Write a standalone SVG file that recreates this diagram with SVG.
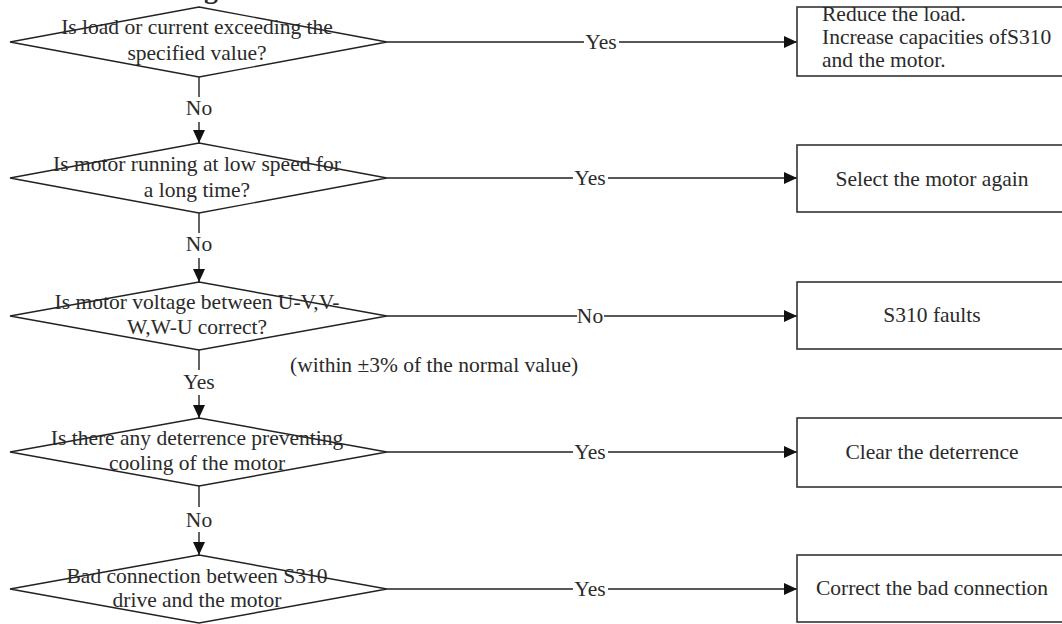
<svg xmlns="http://www.w3.org/2000/svg" width="1062" height="624" viewBox="0 0 1062 624">
<style>
text{font-family:"Liberation Serif","Times New Roman",serif;font-size:21.5px;fill:#2a2a2a}
.c{text-anchor:middle}
.d{fill:#fff;stroke:#222;stroke-width:1.4}
.b{fill:#fff;stroke:#333;stroke-width:1.6}
.ln{fill:none;stroke:#222;stroke-width:1.4}
</style>
<defs>
<marker id="ah" markerUnits="userSpaceOnUse" markerWidth="14" markerHeight="12" refX="13" refY="6" orient="auto">
<path d="M0,0 L13,6 L0,12 z" fill="#111"/>
</marker>
</defs>
<rect width="1062" height="624" fill="#fff"/>
<text x="204" y="-2" style="font-weight:bold;font-size:28px">g</text>
<g id="connectors">
<path class="ln" d="M199 77 V97 M199 122 V143" marker-end="url(#ah)"/>
<text class="c" x="199" y="115">No</text>
<path class="ln" d="M199 213 V233 M199 258 V282" marker-end="url(#ah)"/>
<text class="c" x="199" y="251">No</text>
<path class="ln" d="M199 350 V370 M199 395 V418" marker-end="url(#ah)"/>
<text class="c" x="199" y="389">Yes</text>
<path class="ln" d="M199 486 V507 M199 532 V555" marker-end="url(#ah)"/>
<text class="c" x="199" y="527">No</text>
<path class="ln" d="M387 42 H584 M619 42 H797" marker-end="url(#ah)"/>
<text class="c" x="601" y="49">Yes</text>
<path class="ln" d="M387 178 H573 M608 178 H797" marker-end="url(#ah)"/>
<text class="c" x="590" y="185">Yes</text>
<path class="ln" d="M387 316 H577 M604 316 H797" marker-end="url(#ah)"/>
<text class="c" x="590" y="323">No</text>
<path class="ln" d="M387 452 H573 M608 452 H797" marker-end="url(#ah)"/>
<text class="c" x="590" y="459">Yes</text>
<path class="ln" d="M387 589 H573 M608 589 H797" marker-end="url(#ah)"/>
<text class="c" x="590" y="596">Yes</text>
</g>
<g id="q1">
<polygon class="d" points="199,7 387,42 199,77 10,42"/>
<text class="c" x="197" y="34">Is load or current exceeding the</text>
<text class="c" x="197" y="60">specified value?</text>
</g>
<g id="q2">
<polygon class="d" points="199,143 387,178 199,213 10,178"/>
<text class="c" x="197" y="171">Is motor running at low speed for</text>
<text class="c" x="197" y="197">a long time?</text>
</g>
<g id="q3">
<polygon class="d" points="199,282 387,316 199,350 10,316"/>
<text class="c" x="197" y="309">Is motor voltage between U-V,V-</text>
<text class="c" x="197" y="334">W,W-U correct?</text>
</g>
<g id="note">
<text x="290" y="372">(within ±3% of the normal value)</text>
</g>
<g id="q4">
<polygon class="d" points="199,418 387,452 199,486 10,452"/>
<text class="c" x="197" y="445">Is there any deterrence preventing</text>
<text class="c" x="197" y="470">cooling of the motor</text>
</g>
<g id="q5">
<polygon class="d" points="199,555 387,589 199,623 10,589"/>
<text class="c" x="197" y="583">Bad connection between S310</text>
<text class="c" x="197" y="607">drive and the motor</text>
</g>
<g id="a1">
<rect class="b" x="797" y="7" width="270" height="69"/>
<text x="822" y="21">Reduce the load.</text>
<text x="822" y="44">Increase capacities ofS310</text>
<text x="822" y="67">and the motor.</text>
</g>
<g id="a2">
<rect class="b" x="797" y="145" width="270" height="67"/>
<text class="c" x="932" y="186">Select the motor again</text>
</g>
<g id="a3">
<rect class="b" x="797" y="282" width="270" height="67"/>
<text class="c" x="932" y="322">S310 faults</text>
</g>
<g id="a4">
<rect class="b" x="797" y="418" width="270" height="69"/>
<text class="c" x="932" y="459">Clear the deterrence</text>
</g>
<g id="a5">
<rect class="b" x="797" y="555" width="270" height="67"/>
<text class="c" x="932" y="595">Correct the bad connection</text>
</g>
</svg>
